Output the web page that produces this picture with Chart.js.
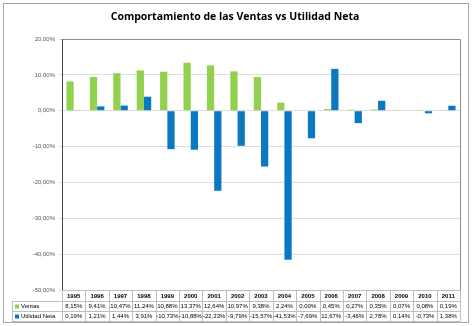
<!DOCTYPE html>
<html>
<head>
<meta charset="utf-8">
<script src="https://cdn.jsdelivr.net/npm/chart.js@4"></script>
<style>
  html, body { margin: 0; padding: 0; background: #fff; }
  #wrap { width: 474px; height: 326px; }
</style>
</head>
<body>
<div id="wrap"><canvas id="chart" width="474" height="326"></canvas></div>
<script>
const years = ['1995','1996','1997','1998','1999','2000','2001','2002','2003','2004','2005','2006','2007','2008','2009','2010','2011'];
const ventas = [8.15, 9.41, 10.47, 11.24, 10.88, 13.37, 12.64, 10.97, 9.38, 2.24, 0.00, 0.45, 0.27, 0.35, 0.07, 0.08, 0.19];
const utilidad = [0.19, 1.21, 1.44, 3.91, -10.73, -10.88, -22.33, -9.79, -15.57, -41.53, -7.69, 11.67, -3.46, 2.78, 0.14, -0.73, 1.38];
const seriesNames = ['Ventas', 'Utilidad Neta'];
const seriesColors = ['#92d050', '#0a79c2'];

const fmt = v => v.toFixed(2).replace('.', ',') + '%';

// marco, titulo y tabla de datos debajo del grafico
const tablePlugin = {
  id: 'tabla',
  beforeDraw(chart) {
    const c = chart.ctx;
    c.save();
    c.fillStyle = '#fff';
    c.fillRect(0, 0, chart.width, chart.height);
    c.strokeStyle = '#a6a6a6';
    c.lineWidth = 1;
    c.strokeRect(3.5, 3.5, 465, 319);
    c.fillStyle = '#000';
    c.font = 'bold 10.5px "Open Sans"';
    c.textAlign = 'center';
    c.textBaseline = 'middle';
    c.fillText('Comportamiento de las Ventas vs Utilidad Neta', 235, 17);
    c.restore();
  },
  afterDraw(chart) {
    const c = chart.ctx;
    const a = chart.chartArea;
    const x = chart.scales.x;
    const step = (a.right - a.left) / years.length;
    const rows = [a.bottom, a.bottom + 11, a.bottom + 21, a.bottom + 31];
    c.save();
    // borde del area de trazado
    c.strokeStyle = '#8c8c8c';
    c.lineWidth = 1;
    c.beginPath();
    c.moveTo(a.left, a.top + 0.5);
    c.lineTo(a.right + 0.5, a.top + 0.5);
    c.lineTo(a.right + 0.5, a.bottom);
    c.stroke();
    c.strokeStyle = '#404040';
    c.beginPath();
    c.moveTo(a.left + 0.5, a.top);
    c.lineTo(a.left + 0.5, a.bottom);
    c.stroke();
    // lineas de la tabla
    c.strokeStyle = '#bfbfbf';
    c.beginPath();
    for (let i = 1; i < rows.length; i++) {
      c.moveTo(12, Math.round(rows[i]) + 0.5);
      c.lineTo(a.right, Math.round(rows[i]) + 0.5);
    }
    c.moveTo(a.left, Math.round(rows[0]) + 0.5);
    c.lineTo(a.right, Math.round(rows[0]) + 0.5);
    c.moveTo(12.5, rows[1]);
    c.lineTo(12.5, rows[3]);
    for (let i = 0; i <= years.length; i++) {
      const px = Math.round(a.left + i * step) + 0.5;
      c.moveTo(px, rows[0]);
      c.lineTo(px, rows[3]);
    }
    c.stroke();
    // textos
    c.fillStyle = '#000';
    c.textAlign = 'center';
    c.textBaseline = 'middle';
    years.forEach((y, i) => {
      const cx = x.getPixelForValue(i);
      c.font = 'bold 6px "Liberation Sans"';
      c.fillText(y, cx, (rows[0] + rows[1]) / 2 + 0.5);
      c.font = '6px "Liberation Sans"';
      c.fillText(fmt(ventas[i]), cx, (rows[1] + rows[2]) / 2 + 0.5);
      c.fillText(fmt(utilidad[i]), cx, (rows[2] + rows[3]) / 2 + 0.5);
    });
    c.textAlign = 'left';
    seriesNames.forEach((n, k) => {
      const cy = (rows[k + 1] + rows[k + 2]) / 2 + 0.5;
      c.fillStyle = seriesColors[k];
      c.fillRect(15, cy - 2, 4, 4);
      c.fillStyle = '#000';
      c.fillText(n, 21, cy);
    });
    c.restore();
  }
};

new Chart(document.getElementById('chart'), {
  type: 'bar',
  data: {
    labels: years,
    datasets: [
      { label: seriesNames[0], data: ventas, backgroundColor: seriesColors[0] },
      { label: seriesNames[1], data: utilidad, backgroundColor: seriesColors[1] }
    ]
  },
  options: {
    responsive: false,
    animation: false,
    layout: { padding: { left: 6, top: 39, right: 14, bottom: 36 } },
    datasets: { bar: { categoryPercentage: 0.62, barPercentage: 1.0 } },
    plugins: { legend: { display: false }, title: { display: false }, tooltip: { enabled: false } },
    scales: {
      x: { display: false },
      y: {
        min: -50, max: 20,
        afterFit: s => { s.width = 56; },
        ticks: {
          stepSize: 10,
          font: { size: 6, family: '"Liberation Sans"' },
          color: '#595959',
          padding: 4,
          callback: v => fmt(v)
        },
        grid: { color: '#dedede', drawTicks: true, tickLength: 3 },
        border: { display: false }
      }
    }
  },
  plugins: [tablePlugin]
});
</script>
</body>
</html>
